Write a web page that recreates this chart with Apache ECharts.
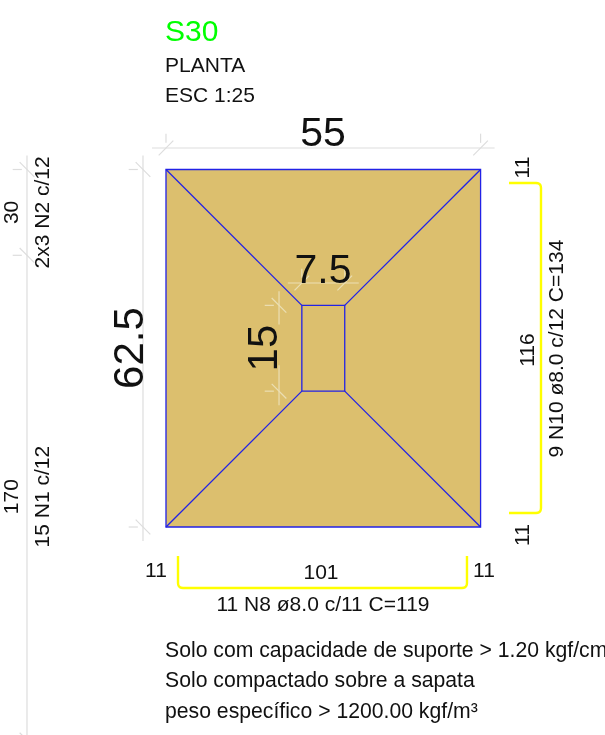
<!DOCTYPE html>
<html><head><meta charset="utf-8">
<style>html,body{margin:0;padding:0;background:#fff}#c{width:605px;height:735px}</style>
<script src="https://cdn.jsdelivr.net/npm/echarts@6/dist/echarts.min.js"></script>
</head><body><div id="c"></div>
<script>
// Drawing geometry in centimetres
const footing = [[0,0],[55,0],[55,62.5],[0,62.5]];
const column = [[23.75,23.75],[31.25,23.75],[31.25,38.75],[23.75,38.75]];
const rebarRight = [[59.97,60.14],[65.56,60.14],[65.56,2.45],[59.97,2.45]];
const rebarBottom = [[2.1,-5.07],[2.1,-10.66],[52.62,-10.66],[52.62,-5.07]];
// dimension chains: fixed coordinate of the line, tick stations along it
const dimTop = {axis:'x', at:66.26, stations:[0,55]};
const dimLeft = {axis:'y', at:-4.02, stations:[0,62.5]};
const dimFar = {axis:'y', at:-24.3, stations:[-37.24,47.5,62.5]};
const dimColW = {axis:'x', at:42.66, stations:[23.75,31.25]};
const dimColH = {axis:'y', at:19.76, stations:[23.75,38.75], gap:[28.3,35.4]};
// texts: string, x, y
const titleText = ['S30',-0.17,86.45];
const headerTexts = [['PLANTA',-0.17,80.6],['ESC 1:25',-0.17,75.25]];
const bigHorizontal = [['55',27.45,68.6],['7.5',27.45,44.7]];
const bigVertical = [['62.5',-6.0,31.29],['15',17.3,31.29]];
const smallVertical = [['30',-26.8,55.0],['2x3 N2 c/12',-21.5,55.0],['170',-26.8,5.3],['15 N1 c/12',-21.5,5.3],
  ['11',62.4,62.85],['116',63.3,30.94],['9 N10 ø8.0 c/12 C=134',68.35,31.2],['11',62.4,-1.4]];
const smallHorizontal = [['11',-1.75,-7.7],['101',27.1,-8.05],['11',55.59,-7.7],['11 N8 ø8.0 c/11 C=119',27.45,-13.65]];
const notes = [['Solo com capacidade de suporte > 1.20 kgf/cm²',-0.17,-21.7],['Solo compactado sobre a sapata',-0.17,-26.95],['peso específico > 1200.00 kgf/m³',-0.17,-32.35]];

const FONT='"Liberation Sans",Arial,sans-serif';
const BLUE='#2222e6', GREY='#dddddd', CREAM='#ebdfb4', YEL='#ffff00', TAN='#dcbf6e';
const chart=echarts.init(document.getElementById('c'),null,{renderer:'canvas'});

function poly(api,pts,style,closed){
  const P=pts.map(p=>api.coord(p));
  return {type:closed?'polygon':'polyline',shape:{points:P},style:style,silent:true};
}
function roundedBracket(api,pts,r){
  const P=pts.map(p=>api.coord(p)), out=[P[0]];
  [1,2].forEach(i=>{
    const c=P[i],a=P[i-1],b=P[i+1];
    const dir=(s,e)=>{const l=Math.hypot(e[0]-s[0],e[1]-s[1]);return [(e[0]-s[0])/l,(e[1]-s[1])/l];};
    const d1=dir(c,a),d2=dir(c,b);
    const s=[c[0]+d1[0]*r,c[1]+d1[1]*r],e=[c[0]+d2[0]*r,c[1]+d2[1]*r];
    for(let t=0;t<=1.001;t+=0.2){
      const m=1-t;
      out.push([m*m*s[0]+2*m*t*c[0]+t*t*e[0],m*m*s[1]+2*m*t*c[1]+t*t*e[1]]);
    }
  });
  out.push(P[3]);
  return {type:'polyline',shape:{points:out},style:{stroke:YEL,lineWidth:2.4,fill:null},silent:true};
}
function dimension(api,d,color){
  const over=2.45,extFar=2.5,extNear=0.9,sl=1.28;
  const els=[],seg=(a,b)=>els.push(poly(api,[a,b],{stroke:color,lineWidth:1.2,fill:null},false));
  const st=d.stations,lo=st[0],hi=st[st.length-1];
  if(d.axis==='x'){
    seg([lo-over,d.at],[hi+over,d.at]);
    st.forEach(s=>{seg([s,d.at+extNear],[s,d.at+extFar]);seg([s-sl,d.at-sl],[s+sl,d.at+sl]);});
  }else{
    if(d.gap){seg([d.at,lo-over],[d.at,d.gap[0]]);seg([d.at,d.gap[1]],[d.at,hi+over]);}
    else seg([d.at,lo-over],[d.at,hi+over]);
    st.forEach(s=>{seg([d.at-extNear,s],[d.at-extFar,s]);seg([d.at-sl,s+sl],[d.at+sl,s-sl]);});
  }
  return els;
}
function textEl(api,t,size,color,align,rot,family){
  const c=api.coord([t[1],t[2]]);
  return {type:'text',x:c[0],y:c[1],rotation:rot||0,silent:true,
    style:{text:t[0],fontSize:size,fontFamily:family||FONT,fill:color,align:align,verticalAlign:'middle'}};
}
function custom(name,z,build){
  return {type:'custom',name:name,coordinateSystem:'cartesian2d',clip:false,z:z,silent:true,data:[[0,0]],
    renderItem:(p,api)=>({type:'group',children:build(api)})};
}
const UP=Math.PI/2;
chart.setOption({
  animation:false,
  backgroundColor:'#fff',
  grid:{left:0,right:0,top:0,bottom:0},
  xAxis:{type:'value',min:-29.02,max:76.75,show:false},
  yAxis:{type:'value',min:-36.36,max:92.13,show:false},
  series:[
    custom('footing',1,api=>[poly(api,footing,{fill:TAN,stroke:BLUE,lineWidth:1.3},true)]),
    custom('hips',2,api=>footing.map((p,i)=>poly(api,[p,column[i]],{stroke:BLUE,lineWidth:1.3,fill:null},false))),
    custom('column',3,api=>[poly(api,column,{fill:null,stroke:BLUE,lineWidth:1.3},true)]),
    custom('dimensions',4,api=>[].concat(
      dimension(api,dimTop,GREY),dimension(api,dimLeft,GREY),dimension(api,dimFar,GREY),
      dimension(api,dimColW,CREAM),dimension(api,dimColH,CREAM))),
    custom('rebars',5,api=>[roundedBracket(api,rebarRight,5),roundedBracket(api,rebarBottom,5)]),
    custom('texts',6,api=>[].concat(
      [textEl(api,titleText,30,'#00ff00','left')],
      headerTexts.map(t=>textEl(api,t,21,'#111','left')),
      bigHorizontal.map(t=>textEl(api,t,41,'#111','center')),
      bigVertical.map(t=>textEl(api,t,42,'#111','center',UP)),
      smallVertical.map(t=>textEl(api,t,21,'#111','center',UP)),
      smallHorizontal.map(t=>textEl(api,t,21,'#111','center')),
      notes.map(t=>textEl(api,t,21.2,'#111','left'))
    ))
  ]
});
</script></body></html>
